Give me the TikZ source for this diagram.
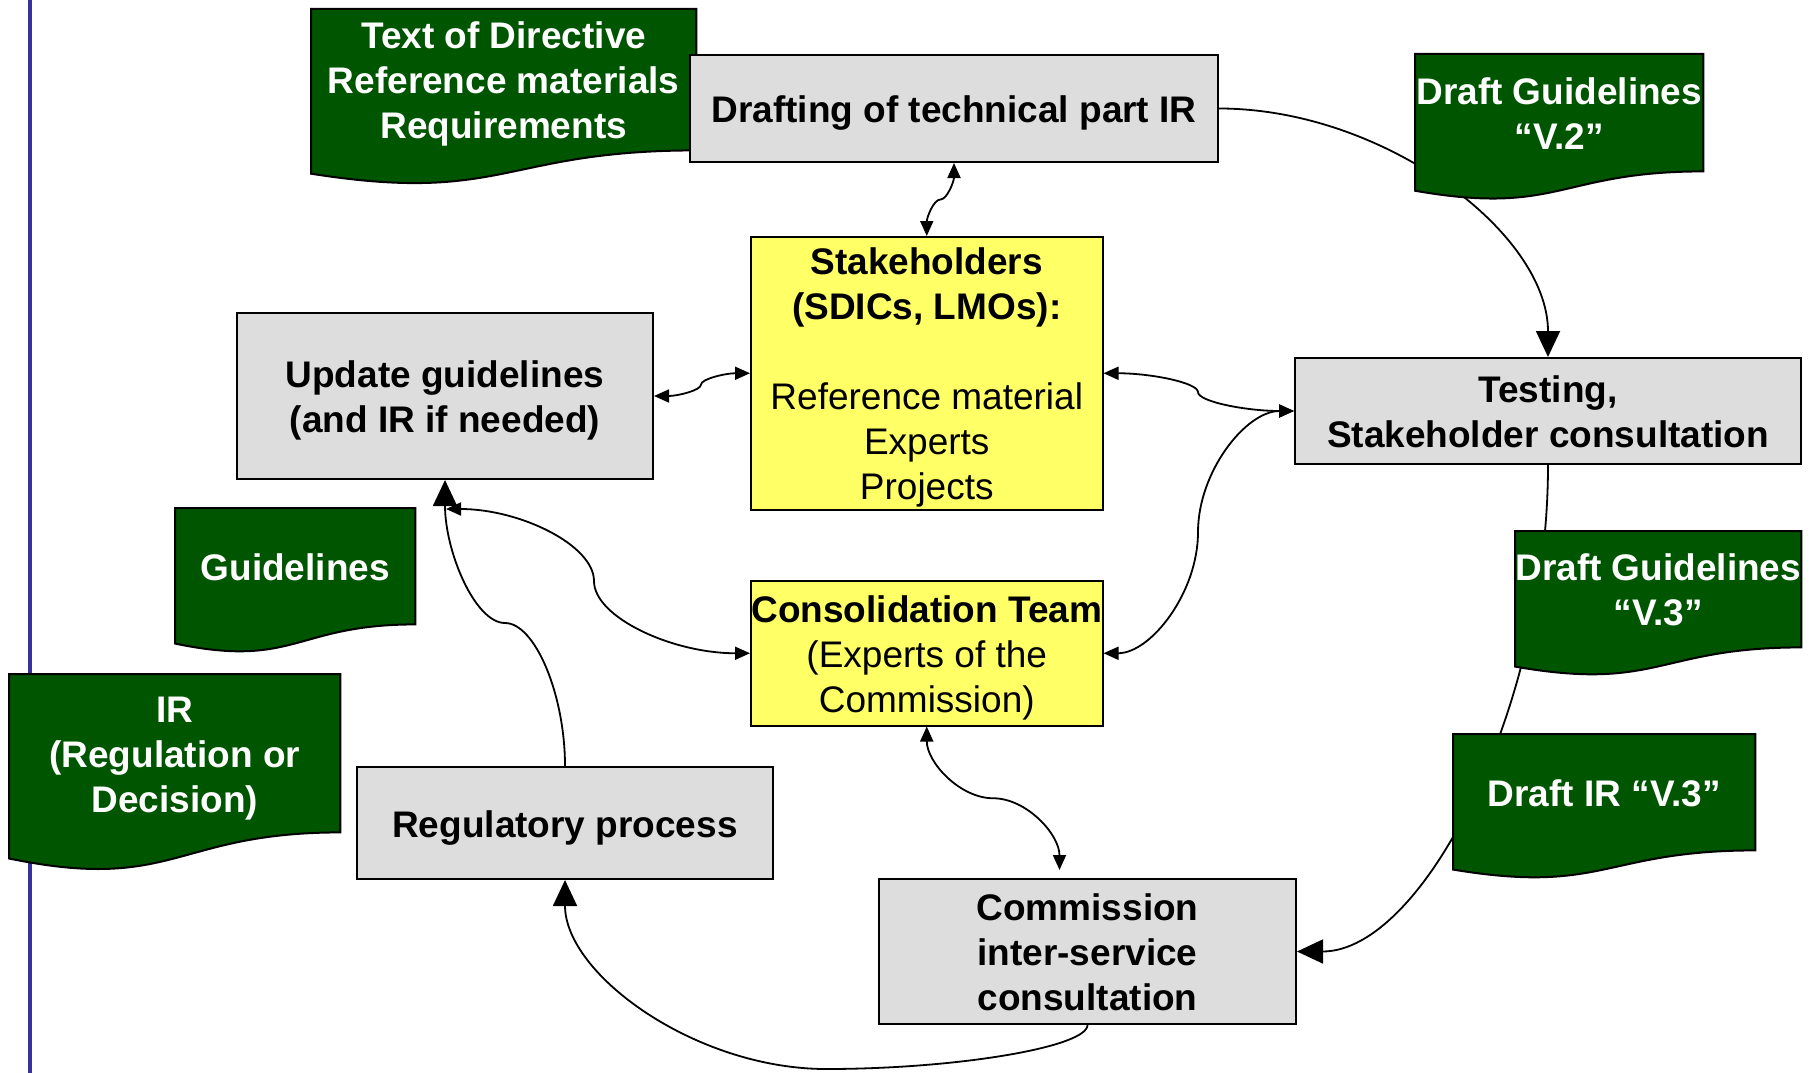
\documentclass[tikz,border=0pt]{standalone}
\usepackage{fontspec}
\setmainfont{Liberation Sans}
\usetikzlibrary{arrows.meta,calc}
\definecolor{boxgray}{RGB}{221,221,221}
\definecolor{docgreen}{RGB}{0,85,0}
\definecolor{stkyellow}{RGB}{255,255,102}
\definecolor{rulerblue}{RGB}{51,51,153}
\pgfdeclarelayer{bg}
\pgfdeclarelayer{docs}
\pgfsetlayers{bg,docs,main}
% fixed line metrics for the first and last text lines
\newcommand\tb{\rule{0pt}{37pt}}
\newcommand\te{\rule[-9pt]{0pt}{9pt}}
% document (wavy bottom) shape drawn around a node that is the top 80.2% of it
\newcommand\docshape[1]{%
  \begin{pgfonlayer}{docs}
  \path[docfill] let \p1=(#1.north west), \p2=(#1.south east), \n1={(\y2-\y1)/0.802} in
    (\p1) -- (\x2,\y1) -- (\p2)
    .. controls ({(\x1+\x2)/2},\y2) and ({(\x1+\x2)/2},{\y1+1.1075*\n1}) ..
    (\x1,{\y1+0.934*\n1}) -- cycle;
  \end{pgfonlayer}}
% curved connector, vertical ends, horizontal middle at y of #4
\newcommand\ccv[4][]{%
  \draw[conn,#1] let \p1=(#2), \p2=(#3), \p3=(#4) in
    (\p1) .. controls (\x1,{(\y1+\y3)/2}) and ({\x1+(\x2-\x1)/4},\y3) .. ({(\x1+\x2)/2},\y3)
    .. controls ({\x1+3*(\x2-\x1)/4},\y3) and (\x2,{(\y2+\y3)/2}) .. (\p2);}
% curved connector, horizontal ends, vertical middle at x of #4
\newcommand\cch[4][]{%
  \draw[conn,#1] let \p1=(#2), \p2=(#3), \p3=(#4) in
    (\p1) .. controls ({(\x1+\x3)/2},\y1) and (\x3,{\y1+(\y2-\y1)/4}) .. (\x3,{(\y1+\y2)/2})
    .. controls (\x3,{\y1+3*(\y2-\y1)/4}) and ({(\x2+\x3)/2},\y2) .. (\p2);}
\begin{document}
\begin{tikzpicture}[x=1pt,y=-1pt,
  txt/.style={font=\fontsize{37}{45}\selectfont, align=center, inner sep=0pt, anchor=north west},
  gbox/.style={txt, draw=black, line width=2pt, fill=boxgray, font=\fontsize{37}{45}\selectfont\bfseries},
  ybox/.style={txt, draw=black, line width=1.5pt, fill=stkyellow},
  doc/.style={txt, text=white, font=\fontsize{37}{45}\selectfont\bfseries},
  docfill/.style={fill=docgreen, draw=black, line width=2pt},
  conn/.style={line width=1.8pt, black},
  sa/.style={{Triangle[length=15pt,width=13pt]}-{Triangle[length=15pt,width=13pt]}},
  ba/.style={-{Triangle[length=26pt,width=24pt]}}
]
\useasboundingbox (0,0) rectangle (1812,1073);

% nodes
\node[doc, minimum width=385pt, minimum height=141pt] (tod) at (311,9) {\tb Text of Directive\\Reference materials\\Requirements\te};
\node[gbox, minimum width=528pt, minimum height=107pt] (draft) at (689,54) {\tb Drafting of technical part IR\te};
\node[doc, minimum width=288pt, minimum height=117pt] (dg2) at (1415,54) {\tb Draft Guidelines\\“V.2”\te};
\node[ybox, minimum width=352pt, minimum height=273pt] (stake) at (750,236) {\tb\textbf{Stakeholders}\\\textbf{(SDICs, LMOs):}\\[45pt]Reference material\\Experts\\Projects\te};
\node[gbox, minimum width=416pt, minimum height=166pt] (upd) at (236,312) {\tb Update guidelines\\(and IR if needed)\te};
\node[gbox, minimum width=506pt, minimum height=106pt] (test) at (1294,357) {\tb Testing,\\Stakeholder consultation\te};
\node[ybox, minimum width=352pt, minimum height=145pt] (cons) at (750,580) {\tb\textbf{Consolidation Team}\\(Experts of the\\Commission)\te};
\node[doc, minimum width=240pt, minimum height=116pt] (guid) at (175,508) {\tb Guidelines\te};
\node[doc, minimum width=331pt, minimum height=158pt] (irdoc) at (9,674) {\tb IR\\(Regulation or\\Decision)\te};
\node[gbox, minimum width=416pt, minimum height=112pt] (reg) at (356,766) {\tb Regulatory process\te};
\node[doc, minimum width=286pt, minimum height=116pt] (dg3) at (1515,531) {\tb Draft Guidelines\\“V.3”\te};
\node[doc, minimum width=302pt, minimum height=116pt] (dir3) at (1453,734) {\tb Draft IR “V.3”\te};
\node[gbox, minimum width=417pt, minimum height=145pt] (comm) at (878,878) {\tb Commission\\inter-service\\consultation\te};

\coordinate (commtop) at ($(comm.north)+(-28,-8)$);
\coordinate (updlow) at ($(upd.south)+(1,29)$);
\coordinate (rulertop) at (30,0);
\coordinate (rulerbot) at (30,1073);

% document shapes
\docshape{tod}
\docshape{dg2}
\docshape{guid}
\docshape{irdoc}
\docshape{dg3}
\docshape{dir3}

% connectors
\begin{pgfonlayer}{bg}
\draw[line width=4pt, rulerblue] (rulertop) -- (rulerbot);
\ccv[sa]{stake.north}{draft.south}{$(stake.north)!0.5!(draft.south)$}
\cch[sa]{upd.east}{stake.west}{701,0}
\cch[sa]{stake.east}{test.west}{1198,0}
\cch[sa]{test.west}{cons.east}{1198,0}
\cch[sa]{cons.west}{updlow}{594,0}
\ccv[sa]{cons.south}{commtop}{$(cons.south)!0.5!(commtop)$}
\ccv[ba]{reg.north}{upd.south}{$(reg.north)!0.5!(upd.south)$}
\ccv[ba]{comm.south}{reg.south}{0,1069}
\draw[conn,ba] (draft.east) .. controls ($(draft.east)!0.5!(draft.east -| test.north)$) and ($(test.north)!0.5!(draft.east -| test.north)$) .. (test.north);
\draw[conn,ba] (test.south) .. controls ($(test.south)!0.5!(test.south |- comm.east)$) and ($(comm.east)!0.5!(test.south |- comm.east)$) .. (comm.east);
\end{pgfonlayer}
\end{tikzpicture}
\end{document}
